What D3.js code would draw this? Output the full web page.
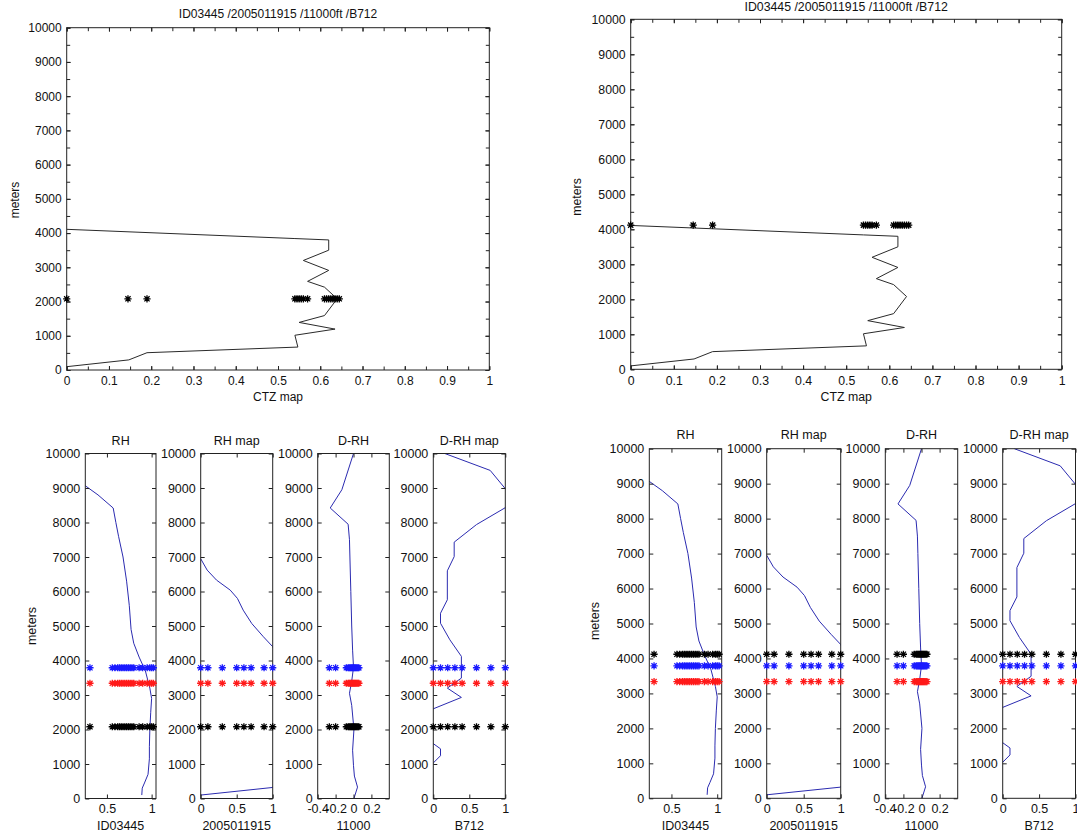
<!DOCTYPE html>
<html>
<head>
<meta charset="utf-8">
<script src="https://cdn.jsdelivr.net/npm/d3@7"></script>
<style>
  body { margin: 0; background: #fff; }
  svg text { font-family: "Liberation Sans", Arial, sans-serif; fill: #111; }
</style>
</head>
<body>
<svg id="chart" width="1077" height="835"></svg>
<script>
// ---- data ----
var titleText = "ID03445 /2005011915 /11000ft /B712";

// CTZ map profile [value, meters]
var ctzProfile = [[0,4110],[0.54,3840],[0.62,3800],[0.62,3500],[0.56,3200],[0.62,2910],[0.57,2590],
  [0.61,2420],[0.64,2080],[0.61,1590],[0.55,1390],[0.635,1195],[0.54,1015],[0.547,670],[0.19,505],
  [0.147,295],[0,97]];
var ctzStars = [0,0.145,0.19,0.54,0.545,0.55,0.555,0.56,0.57,0.61,0.615,0.62,0.625,0.63,0.635,0.64,0.645];
var ctzStarHeightLeft = 2080;
var ctzStarHeightRight = 4120;

var rhProfile = [[0.25,9080],[0.40,8800],[0.57,8420],[0.60,8000],[0.63,7600],[0.68,7000],[0.72,6300],
  [0.75,5600],[0.77,4900],[0.80,4500],[0.86,4100],[0.93,3700],[0.98,3200],[1.0,2900],[0.99,2500],
  [0.98,2000],[0.975,1500],[0.975,1150],[0.96,700],[0.92,450],[0.895,300],[0.89,100]];
var rhStars = [0.31,0.56,0.59,0.62,0.64,0.66,0.68,0.70,0.72,0.74,0.76,0.78,0.80,0.86,0.90,0.95,0.98,1.0,1.02];

var rhMapProfile = [[0,6950],[0.09,6620],[0.22,6330],[0.41,6040],[0.51,5800],[0.59,5460],[0.71,5070],
  [0.87,4690],[1.0,4400],[1.3,3000],[1.3,1500],[1.0,320],[0,100],[-0.1,80]];
var rhMapStars = [0,0.1,0.3,0.5,0.6,0.7,0.88,1.0];

var dRhProfile = [[0,10000],[-0.13,8950],[-0.26,8420],[-0.06,7950],[-0.045,7500],[-0.04,7000],[-0.03,6000],
  [-0.02,5000],[-0.01,4300],[0,3800],[-0.02,3400],[-0.045,3050],[-0.02,2700],[0.005,2000],[-0.01,1400],
  [0,950],[0.01,650],[0.045,330],[0.005,0]];
var dRhStars = [-0.27,-0.2,-0.08,-0.06,-0.05,-0.04,-0.03,-0.02,-0.01,0,0.01,0.02,0.03,0.04,0.05,0.06];

var dRhMapProfile = [[0.12,10300],[0.16,10000],[0.79,9510],[1.0,8980],[1.1,8700],[1.0,8430],[0.6,7940],
  [0.29,7430],[0.29,7010],[0.195,6600],[0.195,5760],[0.1,5370],[0.1,5080],[0.23,4600],[0.39,4120],
  [0.39,3490],[0.195,3200],[0.39,2930],[0,2600],[-0.2,2100],[0,1590],[0.1,1440],[0.1,1240],[0,1030],[-0.1,800]];
var dRhMapStars = [0,0.1,0.2,0.3,0.4,0.6,0.8,1.0];

// star rows for the small panels [meters, colour]
var rowsLeft = [[3790,"#1a1aff"],[3340,"#ff1a1a"],[2080,"#000"]];
var rowsRight = [[4120,"#000"],[3790,"#1a1aff"],[3340,"#ff1a1a"]];

var ctzTicks = d3.range(0, 11).map(function(i){ return i / 10; });
var ctzMinor = d3.range(0, 21).map(function(i){ return i / 20; });
var mTicks = d3.range(0, 10001, 1000);
var mMinor = d3.range(0, 10001, 500);

var svg = d3.select("#chart");
svg.append("rect").attr("width", 1077).attr("height", 835).attr("fill", "#fff");

var clipCount = 0;
var starPath = "M-3.6,0H3.6M0,-3.6V3.6M-2.6,-2.6L2.6,2.6M-2.6,2.6L2.6,-2.6";
function fmt(d){ return String(+d.toFixed(2)); }

function drawPanel(p) {
  var x = d3.scaleLinear().domain(p.xDomain).range([p.left, p.right]);
  var y = d3.scaleLinear().domain([0, 10000]).range([p.bottom, p.top]);
  var g = svg.append("g").style("font-size", p.fs + "px");
  var id = "clip" + (clipCount++);
  g.append("clipPath").attr("id", id).append("rect")
    .attr("x", p.left).attr("y", p.top).attr("width", p.right - p.left).attr("height", p.bottom - p.top);

  g.append("path").datum(p.line)
    .attr("clip-path", "url(#" + id + ")")
    .attr("fill", "none").attr("stroke", p.lineColor).attr("stroke-width", 1)
    .attr("d", d3.line().x(function(d){ return x(d[0]); }).y(function(d){ return y(d[1]); }));

  // minor ticks
  if (p.xMinor) {
    g.append("g").attr("transform", "translate(0," + p.bottom + ")")
      .call(d3.axisBottom(x).tickValues(p.xMinor).tickFormat("").tickSize(-3.5).tickSizeOuter(0));
    g.append("g").attr("transform", "translate(0," + p.top + ")")
      .call(d3.axisTop(x).tickValues(p.xMinor).tickFormat("").tickSize(-3.5).tickSizeOuter(0));
  }
  if (p.yMinor) {
    g.append("g").attr("transform", "translate(" + p.left + ",0)")
      .call(d3.axisLeft(y).tickValues(p.yMinor).tickFormat("").tickSize(-3.5).tickSizeOuter(0));
    g.append("g").attr("transform", "translate(" + p.right + ",0)")
      .call(d3.axisRight(y).tickValues(p.yMinor).tickFormat("").tickSize(-3.5).tickSizeOuter(0));
  }
  // labelled axes
  g.append("g").attr("transform", "translate(0," + p.bottom + ")")
    .call(d3.axisBottom(x).tickValues(p.xTicks).tickFormat(fmt).tickSize(-4).tickPadding(p.xPad).tickSizeOuter(0));
  g.append("g").attr("transform", "translate(0," + p.top + ")")
    .call(d3.axisTop(x).tickValues(p.xTicks).tickFormat("").tickSize(-4).tickSizeOuter(0));
  g.append("g").attr("transform", "translate(" + p.left + ",0)")
    .call(d3.axisLeft(y).tickValues(mTicks).tickFormat(fmt).tickSize(-4).tickPadding(5).tickSizeOuter(0));
  g.append("g").attr("transform", "translate(" + p.right + ",0)")
    .call(d3.axisRight(y).tickValues(mTicks).tickFormat("").tickSize(-4).tickSizeOuter(0));
  g.selectAll(".domain").remove();
  g.selectAll(".tick line").attr("stroke", "#222");
  g.selectAll(".tick text").attr("fill", "#111")
    .style("font-family", "'Liberation Sans', Arial, sans-serif")
    .style("font-size", p.fs + "px");

  g.append("rect").attr("x", p.left).attr("y", p.top)
    .attr("width", p.right - p.left).attr("height", p.bottom - p.top)
    .attr("fill", "none").attr("stroke", "#222").attr("stroke-width", 1);

  p.rows.forEach(function(row) {
    g.append("g").selectAll("path").data(p.stars).enter().append("path")
      .attr("transform", function(d){ return "translate(" + x(d) + "," + y(row[0]) + ")"; })
      .attr("d", starPath).attr("fill", "none").attr("stroke", row[1]).attr("stroke-width", 1.3);
  });

  g.append("text").attr("x", (p.left + p.right) / 2).attr("y", p.titleY)
    .attr("text-anchor", "middle").text(p.title);
  g.append("text").attr("x", (p.left + p.right) / 2).attr("y", p.xlabelY)
    .attr("text-anchor", "middle").text(p.xlabel);
  if (p.meters) {
    g.append("text").attr("transform", "translate(" + p.meters[0] + "," + p.meters[1] + ") rotate(-90)")
      .attr("text-anchor", "middle").attr("dy", "0.35em").text("meters");
  }
}

// top panels
drawPanel({left: 66.7, right: 489.3, top: 27.7, bottom: 370, fs: 12, xDomain: [0, 1],
  xTicks: ctzTicks, xMinor: ctzMinor, yMinor: mMinor, xPad: 6.5,
  line: ctzProfile, lineColor: "#2a2a2a", stars: ctzStars, rows: [[ctzStarHeightLeft, "#000"]],
  title: titleText, titleY: 18, xlabel: "CTZ map", xlabelY: 401, meters: [15, 200]});
drawPanel({left: 630.7, right: 1061.7, top: 19.3, bottom: 369.3, fs: 12.3, xDomain: [0, 1],
  xTicks: ctzTicks, xMinor: ctzMinor, yMinor: mMinor, xPad: 6.5,
  line: ctzProfile, lineColor: "#2a2a2a", stars: ctzStars, rows: [[ctzStarHeightRight, "#000"]],
  title: titleText, titleY: 10.5, xlabel: "CTZ map", xlabelY: 401, meters: [577, 197]});

// bottom panels
var smallPanels = [
  {key: "RH", xDomain: [0.258, 1.049], xTicks: [0.5, 1], line: rhProfile, stars: rhStars, xlabel: "ID03445"},
  {key: "RH map", xDomain: [0, 1], xTicks: [0, 0.5, 1], line: rhMapProfile, stars: rhMapStars, xlabel: "2005011915"},
  {key: "D-RH", xDomain: [-0.4, 0.4], xTicks: [-0.4, -0.2, 0, 0.2], line: dRhProfile, stars: dRhStars, xlabel: "11000"},
  {key: "D-RH map", xDomain: [0, 1], xTicks: [0, 0.5, 1], line: dRhMapProfile, stars: dRhMapStars, xlabel: "B712"}
];
var leftEdges = [[85.3, 156], [200.7, 272.7], [317.7, 389.3], [433.3, 505.3]];
var rightEdges = [[649.3, 721.7], [766.7, 840.7], [885.3, 957.7], [1002.7, 1075.5]];

smallPanels.forEach(function(s, i) {
  drawPanel({left: leftEdges[i][0], right: leftEdges[i][1], top: 453.5, bottom: 798.5, fs: 12.5,
    xDomain: s.xDomain, xTicks: s.xTicks, xPad: 6, line: s.line, lineColor: "#2b2bb0",
    stars: s.stars, rows: rowsLeft, title: s.key, titleY: 445, xlabel: s.xlabel, xlabelY: 830,
    meters: i === 0 ? [31.7, 626] : null});
  drawPanel({left: rightEdges[i][0], right: rightEdges[i][1], top: 448.7, bottom: 798.3, fs: 12.5,
    xDomain: s.xDomain, xTicks: s.xTicks, xPad: 6, line: s.line, lineColor: "#2b2bb0",
    stars: s.stars, rows: rowsRight, title: s.key, titleY: 439, xlabel: s.xlabel, xlabelY: 830,
    meters: i === 0 ? [595, 621] : null});
});
</script>
</body>
</html>
